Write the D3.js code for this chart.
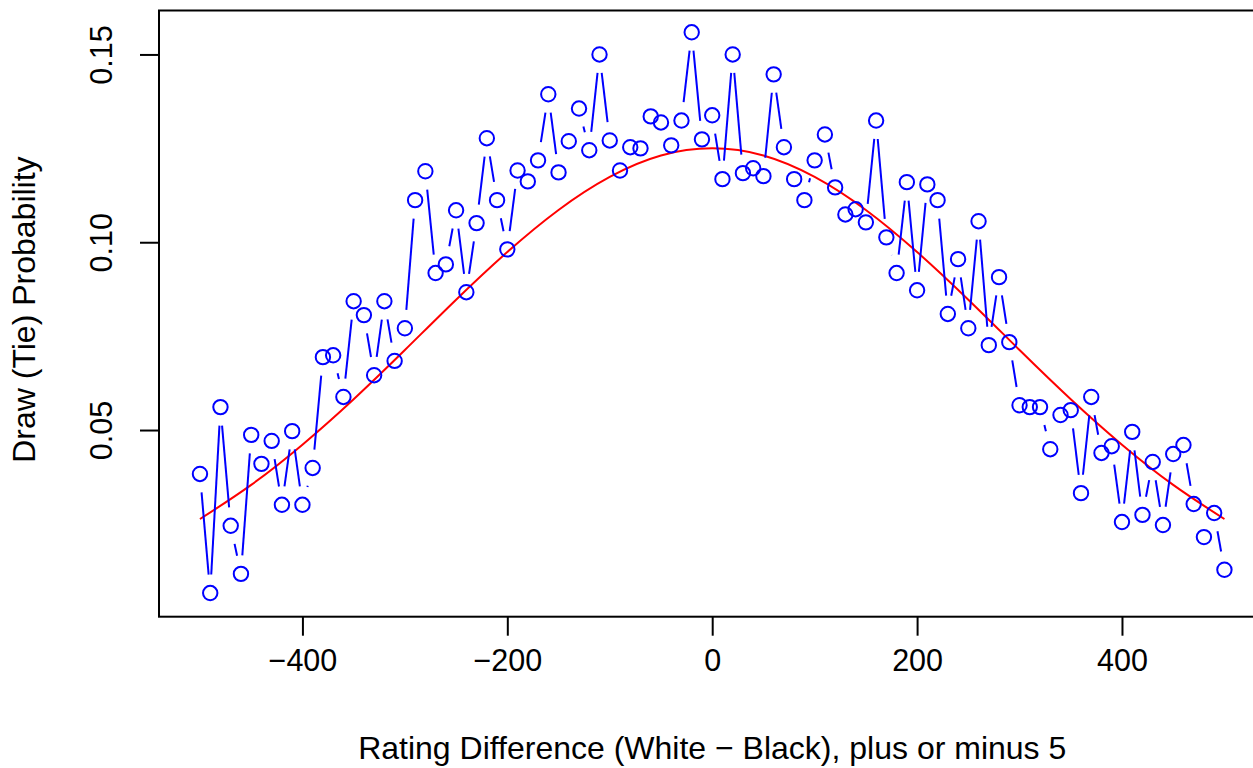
<!DOCTYPE html>
<html>
<head>
<meta charset="utf-8">
<script src="https://cdn.jsdelivr.net/npm/d3@7"></script>
<style>
  html, body { margin: 0; padding: 0; background: #fff; }
  svg { display: block; font-family: "Liberation Sans", Arial, Helvetica, sans-serif; }
</style>
</head>
<body>
<svg id="chart" width="1253" height="768"></svg>
<script>
// Rating difference (White - Black), centres of 10-point bins
const ratingDiff = [
  -500,-490,-480,-470,-460,-450,-440,-430,-420,-410,
  -400,-390,-380,-370,-360,-350,-340,-330,-320,-310,
  -300,-290,-280,-270,-260,-250,-240,-230,-220,-210,
  -200,-190,-180,-170,-160,-150,-140,-130,-120,-110,
  -100,-90,-80,-70,-60,-50,-40,-30,-20,-10,
  0,10,20,30,40,50,60,70,80,90,
  100,110,120,130,140,150,160,170,180,190,
  200,210,220,230,240,250,260,270,280,290,
  300,310,320,330,340,350,360,370,380,390,
  400,410,420,430,440,450,460,470,480,490,500
];
// Observed draw (tie) probability per bin
const drawProb = [
  0.0383,0.0066,0.0561,0.0245,0.0117,0.0487,0.0410,0.0471,0.0301,0.0497,
  0.0301,0.0399,0.0694,0.0699,0.0588,0.0843,0.0806,0.0646,0.0843,0.0684,
  0.0771,0.1112,0.1189,0.0918,0.0941,0.1085,0.0867,0.1051,0.1277,0.1112,
  0.0981,0.1191,0.1162,0.1218,0.1394,0.1186,0.1269,0.1356,0.1245,0.1500,
  0.1271,0.1191,0.1253,0.1250,0.1335,0.1319,0.1258,0.1324,0.1559,0.1274,
  0.1338,0.1168,0.1500,0.1184,0.1197,0.1176,0.1447,0.1253,0.1168,0.1112,
  0.1218,0.1287,0.1146,0.1074,0.1088,0.1053,0.1324,0.1013,0.0918,0.1160,
  0.0872,0.1154,0.1112,0.0809,0.0955,0.0771,0.1056,0.0726,0.0907,0.0734,
  0.0566,0.0561,0.0561,0.0449,0.0540,0.0553,0.0332,0.0588,0.0439,0.0457,
  0.0255,0.0495,0.0274,0.0415,0.0247,0.0436,0.0460,0.0303,0.0215,0.0279,0.0128
];
// Fitted (red) curve
const fitX = [-500,-450,-400,-350,-300,-250,-200,-150,-100,-50,0,50,100,150,200,250,300,350,400,450,500];
const fitY = [0.0263,0.0354,0.0461,0.0582,0.0713,0.0847,0.0974,0.1086,0.1174,0.1231,0.1250,
              0.1231,0.1174,0.1086,0.0974,0.0847,0.0713,0.0582,0.0461,0.0354,0.0263];
const xTicks = [-400, -200, 0, 200, 400];
const yTicks = [0.05, 0.10, 0.15];
const xTitle = "Rating Difference (White \u2212 Black), plus or minus 5";
const yTitle = "Draw (Tie) Probability";

const svg = d3.select("#chart");
const x = d3.scaleLinear().domain([-540, 540]).range([159, 1265.4]);
const y = d3.scaleLinear().domain([0.0003, 0.1617]).range([616.7, 10.5]);

const blue = "#0000FF";

// Plot box
svg.append("rect")
  .attr("x", x.range()[0]).attr("y", y.range()[1])
  .attr("width", x.range()[1] - x.range()[0])
  .attr("height", y.range()[0] - y.range()[1])
  .attr("fill", "none").attr("stroke", "#000").attr("stroke-width", 2);

// X axis
const xAxis = d3.axisBottom(x).tickValues(xTicks).tickSize(19).tickPadding(14)
  .tickFormat(d => d < 0 ? "\u2212" + Math.abs(d) : String(d));
const gx = svg.append("g").attr("transform", `translate(0,${y.range()[0]})`).call(xAxis);
gx.select(".domain").remove();
gx.selectAll(".tick line").attr("stroke", "#000").attr("stroke-width", 2);
gx.selectAll(".tick text").attr("font-size", 30.5).attr("fill", "#000")
  .attr("font-family", "Liberation Sans, Arial, sans-serif");

// Y axis
const yAxis = d3.axisLeft(y).tickValues(yTicks).tickSize(19).tickFormat(d3.format(".2f"));
const gy = svg.append("g").attr("transform", `translate(${x.range()[0]},0)`).call(yAxis);
gy.select(".domain").remove();
gy.selectAll(".tick line").attr("stroke", "#000").attr("stroke-width", 2);
gy.selectAll(".tick text").remove();
gy.selectAll(".tick").append("text")
  .attr("transform", `translate(${112 - x.range()[0]},0) rotate(-90)`)
  .attr("text-anchor", "middle")
  .attr("font-size", 30.5).attr("fill", "#000")
  .attr("font-family", "Liberation Sans, Arial, sans-serif")
  .text(d => d3.format(".2f")(d));

// Titles
svg.append("text").attr("x", (x.range()[0] + x.range()[1]) / 2).attr("y", 759)
  .attr("text-anchor", "middle").attr("font-size", 32).text(xTitle);
svg.append("text")
  .attr("transform", `translate(35,${(y.range()[0] + y.range()[1]) / 2 - 4}) rotate(-90)`)
  .attr("text-anchor", "middle").attr("font-size", 32).text(yTitle);

// Red fitted curve
const fitData = fitX.map((v, i) => [v, fitY[i]]);
svg.append("path").datum(fitData)
  .attr("fill", "none").attr("stroke", "#FF0000").attr("stroke-width", 2)
  .attr("d", d3.line().x(d => x(d[0])).y(d => y(d[1])).curve(d3.curveNatural));

// type="b" gapped segments
const pts = ratingDiff.map((v, i) => [x(v), y(drawProb[i])]);
const gap = 18.5;
const segs = [];
for (let i = 0; i < pts.length - 1; i++) {
  const [x1, y1] = pts[i], [x2, y2] = pts[i + 1];
  const dx = x2 - x1, dy = y2 - y1, d = Math.hypot(dx, dy);
  if (d > 2 * gap) {
    const ux = dx / d, uy = dy / d;
    segs.push([x1 + ux * gap, y1 + uy * gap, x2 - ux * gap, y2 - uy * gap]);
  }
}
svg.append("g").selectAll("line").data(segs).join("line")
  .attr("x1", d => d[0]).attr("y1", d => d[1]).attr("x2", d => d[2]).attr("y2", d => d[3])
  .attr("stroke", blue).attr("stroke-width", 2);

// Points
svg.append("g").selectAll("circle").data(ratingDiff).join("circle")
  .attr("cx", d => x(d)).attr("cy", (d, i) => y(drawProb[i]))
  .attr("r", 7.2).attr("fill", "none").attr("stroke", blue).attr("stroke-width", 2);
</script>
</body>
</html>
